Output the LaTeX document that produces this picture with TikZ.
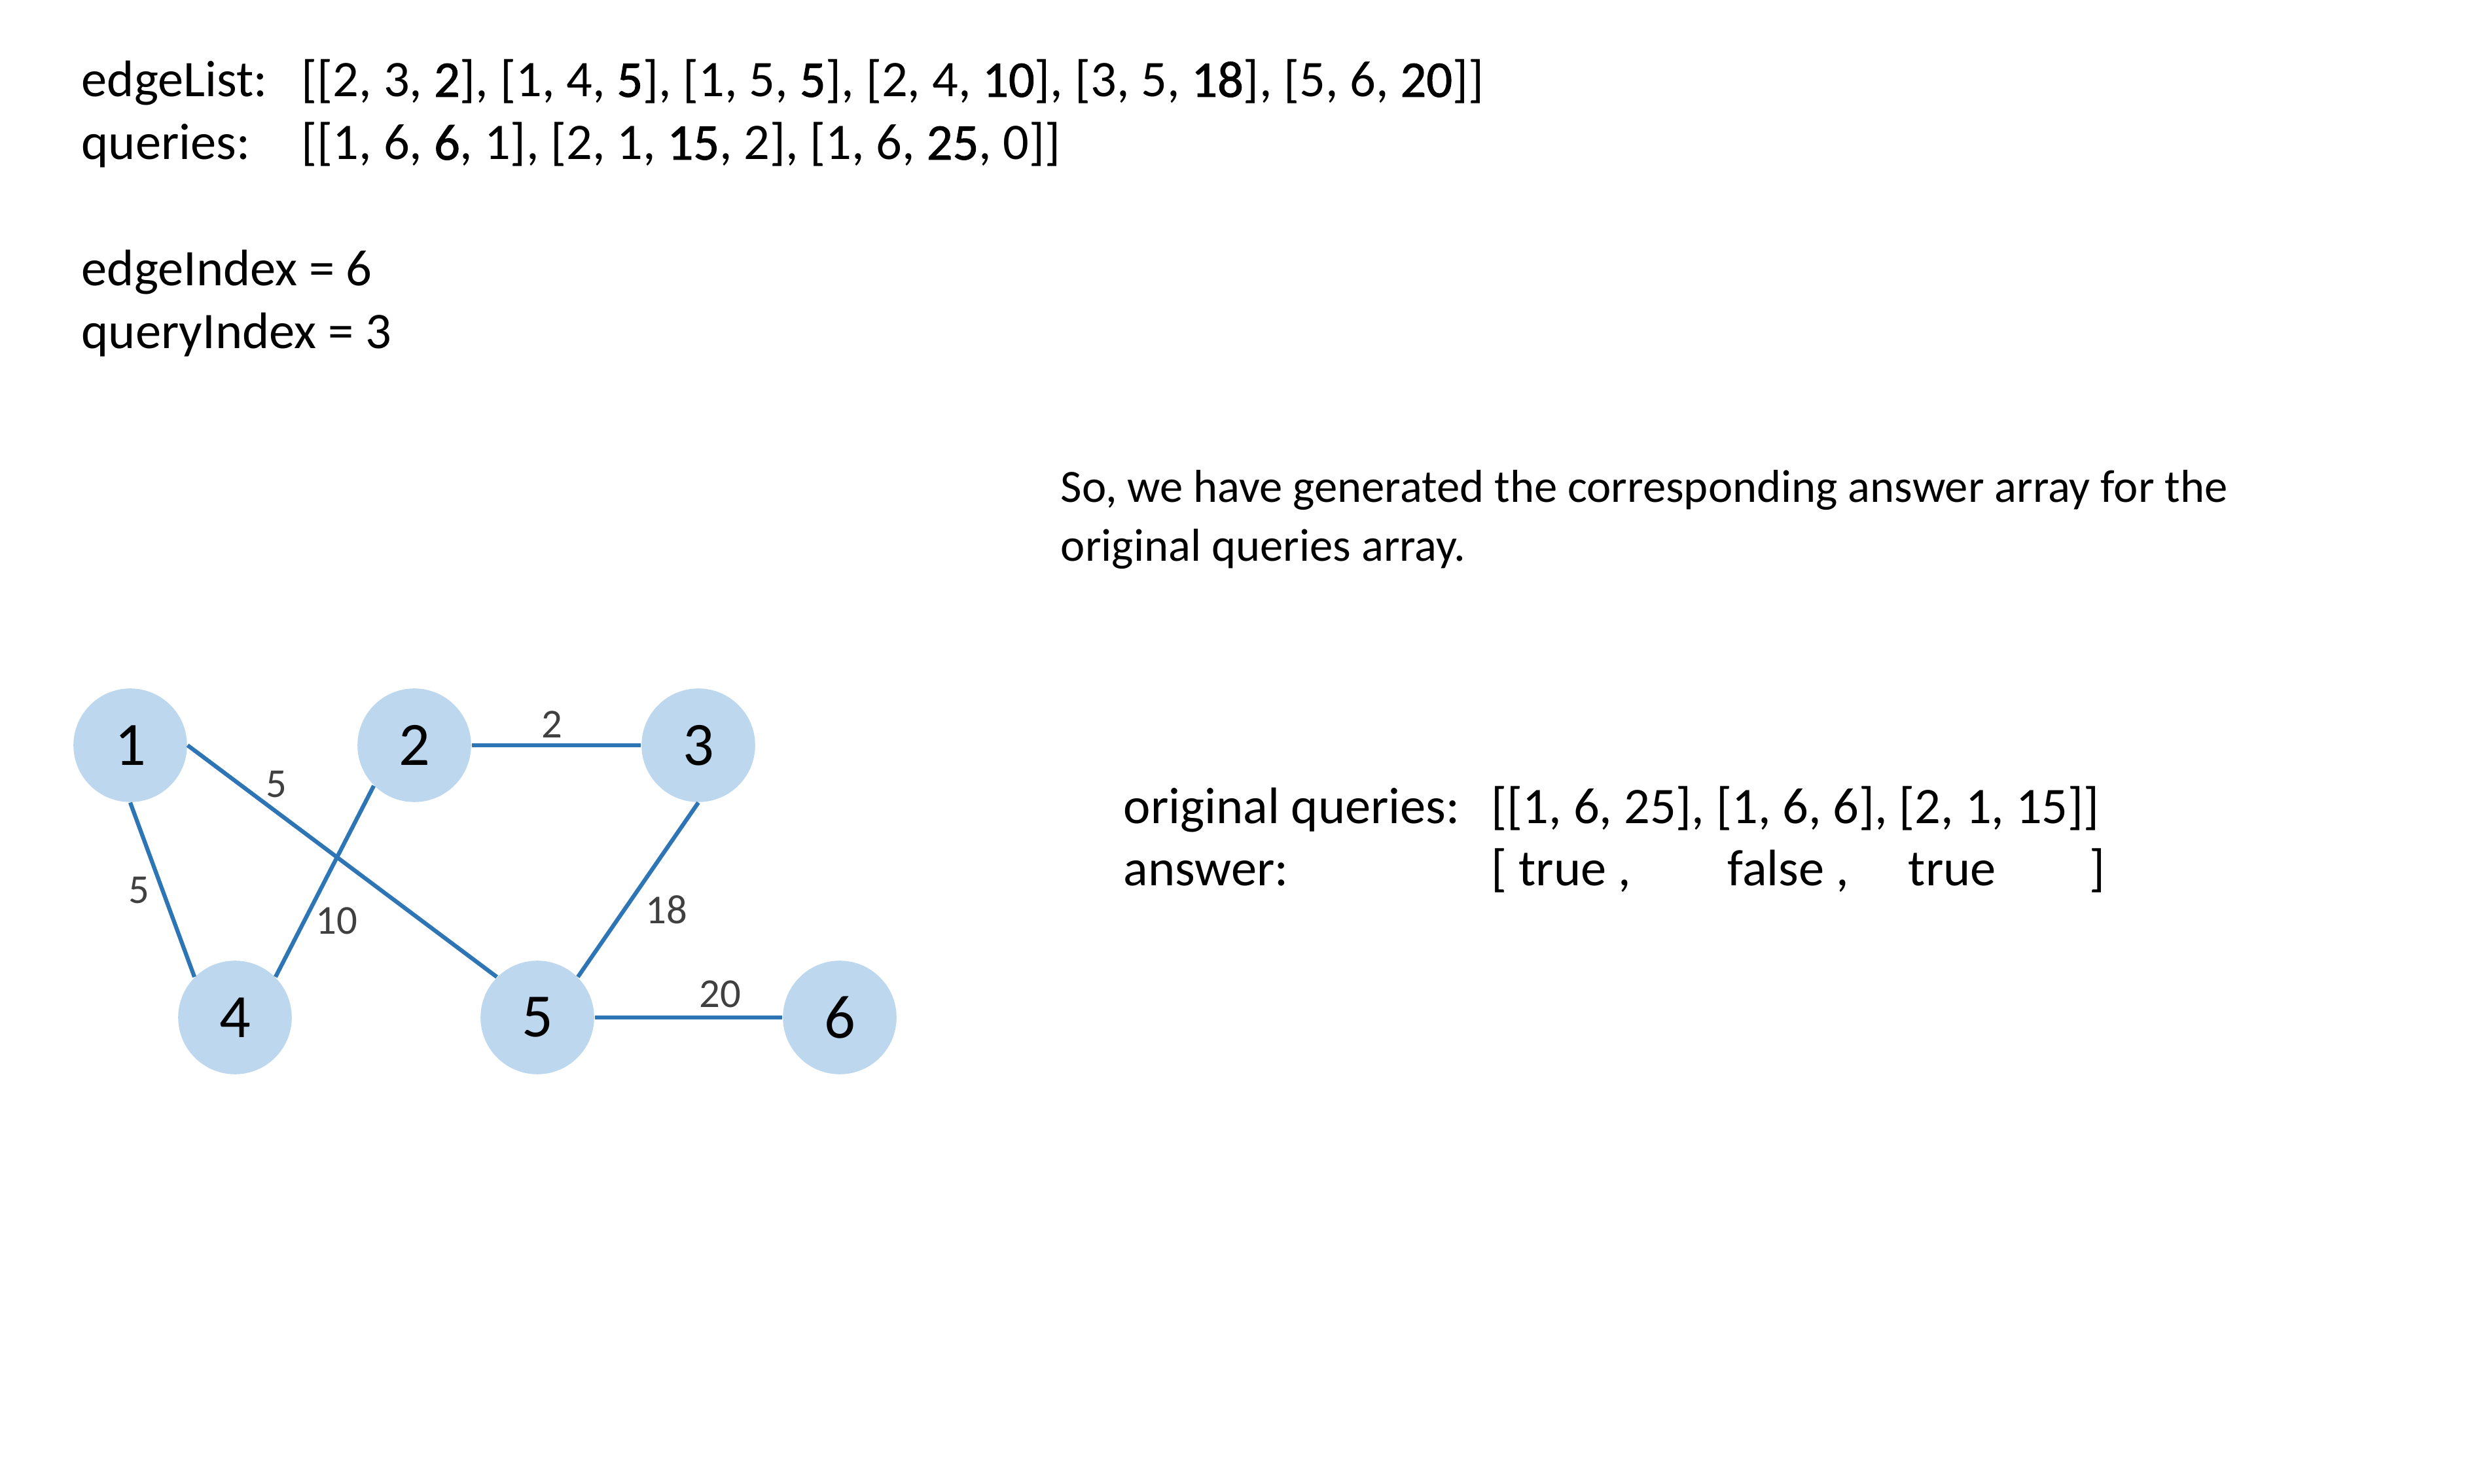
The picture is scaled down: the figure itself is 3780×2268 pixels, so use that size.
\documentclass[tikz,border=0pt]{standalone}
\usepackage{fontspec}
\setmainfont{Carlito}
\newfontfamily\heavyfont[FakeBold=1.2]{Carlito}
\usepackage{tikz}
\usetikzlibrary{calc}
\definecolor{nodeblue}{HTML}{BDD7EE}
\definecolor{edgeblue}{HTML}{2E75B6}
\definecolor{labelgray}{HTML}{404040}
\newcommand{\hv}[1]{{\heavyfont #1}}

\begin{document}
\begin{tikzpicture}[x=0.08959mm, y=-0.08959mm,
	vertex/.style={circle, fill=nodeblue, minimum size=15.55mm, inner sep=0pt, font=\fontsize{24}{28}\selectfont},
	edge/.style={draw=edgeblue, line width=1.6pt},
	wlabel/.style={inner sep=0pt, text=labelgray, font=\fontsize{16}{19}\selectfont},
	txt/.style={anchor=base west, inner sep=0pt, font=\fontsize{20}{24}\selectfont},
	smalltxt/.style={anchor=base west, inner sep=0pt, font=\fontsize{18}{22}\selectfont}]
		%%%%% START %%%%%
		\useasboundingbox (0, 0) rectangle (3780, 2268);
		
		\node[txt] (elname) at (124, 148) {edgeList:};
		\node[txt] (ellist) at (460, 148) {[[2, 3, \hv{2}], [1, 4, \hv{5}], [1, 5, \hv{5}], [2, 4, \hv{10}], [3, 5, \hv{18}], [5, 6, \hv{20}]]};
		\node[txt] (qname) at (124, 244) {queries:};
		\node[txt] (qlist) at (460, 244) {[[1, 6, \hv{6}, 1], [2, 1, \hv{15}, 2], [1, 6, \hv{25}, 0]]};
		
		\node[txt] (eidx) at (124, 437) {edgeIndex = 6};
		\node[txt] (qidx) at (124, 533) {queryIndex = 3};
		
		\node[smalltxt] (msga) at (1620, 768) {So, we have generated the corresponding answer array for the};
		\node[smalltxt] (msgb) at (1620, 858) {original queries array.};
		
		\node[txt] (oqname) at (1716, 1259) {original queries:};
		\node[txt] (oqlist) at (2278, 1259) {[[1, 6, 25], [1, 6, 6], [2, 1, 15]]};
		\node[txt] (ansname) at (1716, 1354) {answer:};
		\node[txt] (ansa) at (2278, 1354) {[ true ,};
		\node[txt] (ansb) at (2639, 1354) {false ,};
		\node[txt] (ansc) at (2915, 1354) {true};
		\node[txt] (ansd) at (3192, 1354) {]};
		
		\node[vertex] (n1) at (199, 1139) {1};
		\node[vertex] (n2) at (633, 1139) {2};
		\node[vertex] (n3) at (1067, 1139) {3};
		\node[vertex] (n4) at (359, 1555) {4};
		\node[vertex] (n5) at (821, 1555) {5};
		\node[vertex] (n6) at (1283, 1555) {6};
		
		\draw[edge] (n1.south) -- (n4.north west);
		\draw[edge] (n1.east) -- (n5.north west);
		\draw[edge] (n2.south west) -- (n4.north east);
		\draw[edge] (n2.east) -- (n3.west);
		\draw[edge] (n3.south) -- (n5.north east);
		\draw[edge] (n5.east) -- (n6.west);
		
		\node[wlabel] (w23) at (843, 1107) {2};
		\node[wlabel] (w15) at (422, 1199) {5};
		\node[wlabel] (w14) at (212, 1361) {5};
		\node[wlabel] (w24) at (514, 1407) {10};
		\node[wlabel] (w35) at (1018, 1390) {18};
		\node[wlabel] (w56) at (1100, 1519) {20};
		%%%%% END %%%%%
\end{tikzpicture}
\end{document}
